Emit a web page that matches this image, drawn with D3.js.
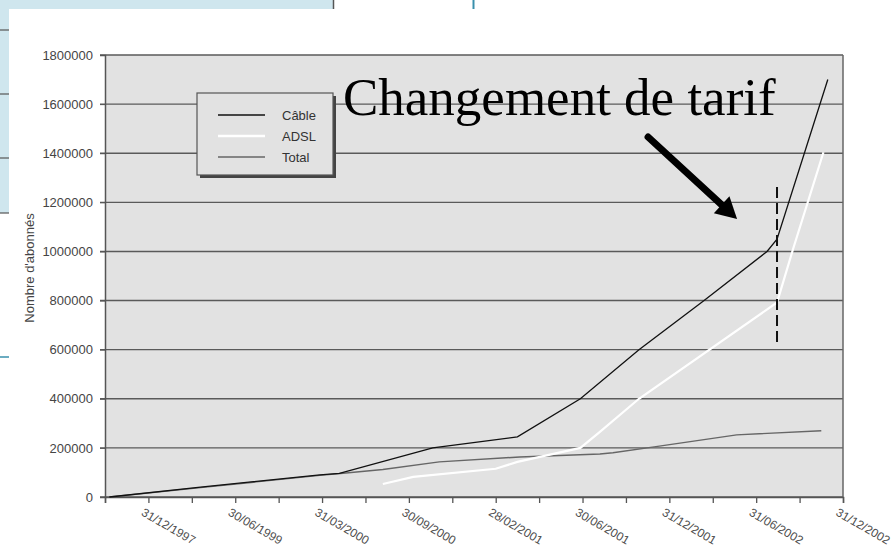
<!DOCTYPE html>
<html>
<head>
<meta charset="utf-8">
<script src="https://cdnjs.cloudflare.com/ajax/libs/d3/7.8.5/d3.min.js"></script>
<style>
  body { margin: 0; background: #fff; }
  svg { display: block; }
  text { font-family: "Liberation Sans", Arial, sans-serif; }
</style>
</head>
<body>
<svg id="chart" width="895" height="546"></svg>
<script>
// x axis : 18 tick marks, only every second one carries a date
var tickLabels = ["", "31/12/1997", "", "30/06/1999", "", "31/03/2000", "", "30/09/2000", "",
                  "28/02/2001", "", "30/06/2001", "", "31/12/2001", "", "31/06/2002", "", "31/12/2002"];
var yTicks = [0, 200000, 400000, 600000, 800000, 1000000, 1200000, 1400000, 1600000, 1800000];

// series, position along the category axis + number of subscribers
var cablePos  = [0.1, 2.2, 4.95, 5.4, 7.55, 9.5, 10.95, 12.3, 13.8, 15.25, 15.48, 16.65];
var cableVal  = [0, 40000, 90000, 96000, 200000, 245000, 400000, 600000, 800000, 1000000, 1050000, 1700000];
var adslPos   = [6.4, 7.1, 9.0, 9.5, 10.95, 11.4, 12.3, 15.48, 15.85, 16.55];
var adslVal   = [53000, 82000, 115000, 143000, 200000, 265000, 400000, 792000, 1010000, 1404000];
var totalPos  = [0.1, 2.2, 4.95, 5.55, 6.4, 7.7, 9.55, 11.4, 11.7, 12.65, 14.55, 16.5];
var totalVal  = [0, 38000, 88000, 98000, 112000, 143000, 163000, 175000, 180000, 204000, 253000, 270000];

var seriesNames = ["Câble", "ADSL", "Total"];

// tariff change marker and arrow (axis position / value)
var tarifPos = 15.48;
var tarifRange = [611000, 1262000];
var arrowFrom = [12.51, 1466000];
var arrowTo = [14.56, 1132000];

var plotLeft = 105, plotRight = 843, plotTop = 55, plotBottom = 497;

var svg = d3.select("#chart");

var x = d3.scaleLinear().domain([0, 17]).range([plotLeft, plotRight]);
var y = d3.scaleLinear().domain([0, 1800000]).range([plotBottom, plotTop]);

drawSlide();
drawPlot();
drawLegend();
drawNote();

function drawSlide() {
  // bits of the slide template peeking out behind the pasted picture
  svg.append("rect").attr("x", 0).attr("y", 0).attr("width", 334).attr("height", 9).style("fill", "#cfe6ee");
  svg.append("rect").attr("x", 0).attr("y", 0).attr("width", 9).attr("height", 213).style("fill", "#cfe6ee");
  [30, 94, 158, 213].forEach(function(yy) {
    svg.append("line").attr("x1", 0).attr("x2", 9).attr("y1", yy).attr("y2", yy)
       .style("stroke", "#555").style("stroke-width", 1.2);
  });
  svg.append("line").attr("x1", 0).attr("x2", 9).attr("y1", 357).attr("y2", 357)
     .style("stroke", "#3a90ac").style("stroke-width", 1.5);
  svg.append("line").attr("x1", 333.5).attr("x2", 333.5).attr("y1", 0).attr("y2", 9)
     .style("stroke", "#555").style("stroke-width", 1.5);
  svg.append("line").attr("x1", 473.5).attr("x2", 473.5).attr("y1", 0).attr("y2", 9)
     .style("stroke", "#3a90ac").style("stroke-width", 2);

  // half hidden date on the slide, only a sliver shows
  svg.append("clipPath").attr("id", "leftclip")
     .append("rect").attr("x", 0).attr("y", 214).attr("width", 9).attr("height", 140);
  svg.append("text")
     .attr("clip-path", "url(#leftclip)")
     .attr("transform", "translate(10,258) rotate(-90)")
     .attr("text-anchor", "middle")
     .style("font-size", "17px")
     .style("fill", "#9ea2a4")
     .text("Juin 01");
}

function drawPlot() {
  svg.append("rect")
     .attr("x", plotLeft).attr("y", plotTop)
     .attr("width", plotRight - plotLeft).attr("height", plotBottom - plotTop)
     .style("fill", "#e2e2e2");

  // horizontal grid, starting at the tick stub left of the axis
  svg.append("g").selectAll("line")
     .data(yTicks)
     .join("line")
     .attr("x1", plotLeft - 5).attr("x2", plotRight)
     .attr("y1", function(d) { return y(d); })
     .attr("y2", function(d) { return y(d); })
     .style("stroke", "#5a5a5a")
     .style("stroke-width", 1.4);

  svg.append("line")
     .attr("x1", plotRight).attr("x2", plotRight).attr("y1", plotTop).attr("y2", plotBottom)
     .style("stroke", "#666").style("stroke-width", 1.5);

  var yAxis = svg.append("g")
                 .attr("transform", "translate(" + plotLeft + ",0)")
                 .call(d3.axisLeft(y).tickValues(yTicks).tickSize(5).tickPadding(7).tickFormat(d3.format("d")));
  yAxis.select(".domain").style("stroke", "#555").style("stroke-width", 1.5);
  yAxis.selectAll(".tick line").style("stroke", "#555");
  yAxis.selectAll("text").style("font-size", "13px").style("fill", "#454545");

  var xAxis = svg.append("g")
                 .attr("transform", "translate(0," + plotBottom + ")")
                 .call(d3.axisBottom(x).tickValues(d3.range(tickLabels.length)).tickSize(6)
                         .tickFormat(function(i) { return tickLabels[i]; }));
  xAxis.select(".domain").style("stroke", "#555").style("stroke-width", 1.5);
  xAxis.selectAll(".tick line").style("stroke", "#555").style("stroke-width", 1.3);
  xAxis.selectAll("text")
       .attr("x", 0).attr("y", 0).attr("dy", "0.75em")
       .attr("transform", "translate(-4,10) rotate(30)")
       .style("text-anchor", "start")
       .style("font-size", "12px")
       .style("fill", "#4d4d4d");

  svg.append("text")
     .attr("transform", "translate(34,268) rotate(-90)")
     .attr("text-anchor", "middle")
     .style("font-size", "13px")
     .style("fill", "#454545")
     .text("Nombre d'abonnés");

  var line = d3.line()
               .x(function(d) { return x(d[0]); })
               .y(function(d) { return y(d[1]); });

  svg.append("path").datum(d3.zip(totalPos, totalVal))
     .attr("d", line)
     .style("fill", "none").style("stroke", "#666").style("stroke-width", 1.4);
  svg.append("path").datum(d3.zip(adslPos, adslVal))
     .attr("d", line)
     .style("fill", "none").style("stroke", "#fff").style("stroke-width", 2.2);
  svg.append("path").datum(d3.zip(cablePos, cableVal))
     .attr("d", line)
     .style("fill", "none").style("stroke", "#111").style("stroke-width", 1.3);
}

function drawLegend() {
  var g = svg.append("g").attr("transform", "translate(197,93)");
  g.append("rect").attr("x", 3).attr("y", 3).attr("width", 136).attr("height", 82).style("fill", "#444");
  g.append("rect").attr("x", 0).attr("y", 0).attr("width", 136).attr("height", 82)
   .style("fill", "#e2e2e2").style("stroke", "#555").style("stroke-width", 1.2);

  var strokes = ["#111", "#fff", "#666"];
  var widths = [1.6, 2.6, 1.3];
  var item = g.selectAll(".item")
              .data(seriesNames)
              .join("g")
              .attr("class", "item")
              .attr("transform", function(d, i) { return "translate(0," + (22 + i * 21) + ")"; });
  item.append("line")
      .attr("x1", 21).attr("x2", 68)
      .style("stroke", function(d, i) { return strokes[i]; })
      .style("stroke-width", function(d, i) { return widths[i]; });
  item.append("text")
      .attr("x", 85).attr("dy", "0.35em")
      .style("font-size", "13px")
      .style("fill", "#333")
      .text(function(d) { return d; });
}

function drawNote() {
  svg.append("line")
     .attr("x1", x(tarifPos)).attr("x2", x(tarifPos))
     .attr("y1", y(tarifRange[1])).attr("y2", y(tarifRange[0]))
     .style("stroke", "#111").style("stroke-width", 2)
     .style("stroke-dasharray", "11,5");

  svg.append("text")
     .attr("x", 343).attr("y", 115)
     .style("font-family", "'Liberation Serif', 'Times New Roman', serif")
     .style("font-size", "53px")
     .style("fill", "#000")
     .text("Changement de tarif");

  // arrow, shaft plus triangular head
  var x0 = x(arrowFrom[0]), y0 = y(arrowFrom[1]);
  var x1 = x(arrowTo[0]), y1 = y(arrowTo[1]);
  var len = Math.sqrt((x1 - x0) * (x1 - x0) + (y1 - y0) * (y1 - y0));
  var ux = (x1 - x0) / len, uy = (y1 - y0) / len;
  var headLen = 21, headW = 11.5;
  var bx = x1 - ux * headLen, by = y1 - uy * headLen;
  svg.append("line")
     .attr("x1", x0).attr("y1", y0).attr("x2", bx + ux * 2).attr("y2", by + uy * 2)
     .style("stroke", "#000").style("stroke-width", 7).style("stroke-linecap", "round");
  svg.append("polygon")
     .attr("points", [[x1, y1], [bx - uy * headW, by + ux * headW], [bx + uy * headW, by - ux * headW]]
                       .map(function(p) { return p.join(","); }).join(" "))
     .style("fill", "#000");
}
</script>
</body>
</html>
